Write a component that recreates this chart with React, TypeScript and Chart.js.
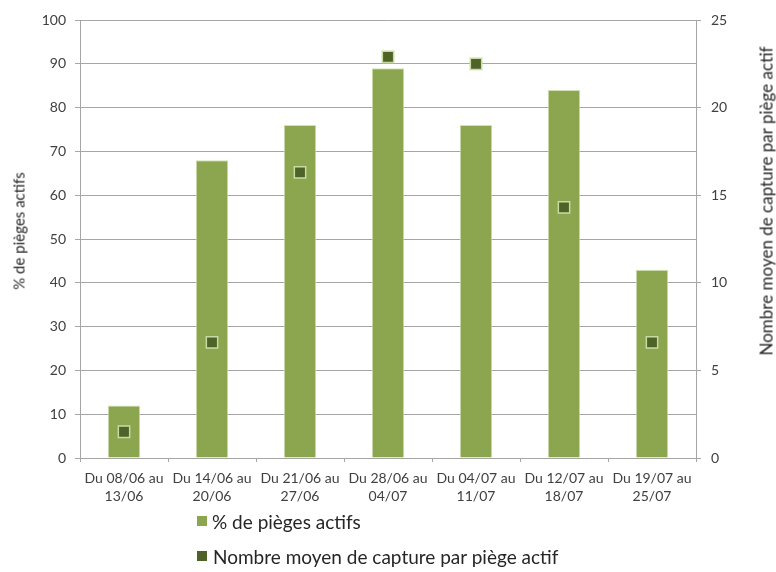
import React, { useEffect, useRef } from 'react';
import { Chart, registerables } from 'chart.js';

Chart.register(...registerables);

const categories: string[][] = [
  ['Du 08/06 au', '13/06'],
  ['Du 14/06 au', '20/06'],
  ['Du 21/06 au', '27/06'],
  ['Du 28/06 au', '04/07'],
  ['Du 04/07 au', '11/07'],
  ['Du 12/07 au', '18/07'],
  ['Du 19/07 au', '25/07'],
];
const pctActiveTraps = [12, 68, 76, 89, 76, 84, 43];
const meanCaptures = [1.5, 6.6, 16.3, 22.9, 22.5, 14.3, 6.6];
const leftAxisMax = 100;
const leftAxisStep = 10;
const rightAxisMax = 25;
const rightAxisStep = 5;

const seriesLabels = ['% de pièges actifs', 'Nombre moyen de capture par piège actif'];
const leftTitle = '% de pièges actifs';
const rightTitle = 'Nombre moyen de capture par piège actif';

const BAR_COLOR = '#8ba64f';
const POINT_COLOR = '#4f6228';
const GRID = '#a6a6a6';
const FONT = 'Lato, Calibri, "Open Sans", sans-serif';
const W = 776;
const H = 572;

export default function App() {
  const ref = useRef<HTMLCanvasElement | null>(null);

  useEffect(() => {
    document.body.style.margin = '0';
    const canvas = ref.current;
    if (!canvas) return;
    const chart = new Chart(canvas, {
      type: 'bar',
      data: {
        labels: categories,
        datasets: [
          {
            type: 'line',
            label: seriesLabels[1],
            data: meanCaptures,
            yAxisID: 'y1',
            showLine: false,
            pointStyle: 'rect',
            pointRadius: 8,
            pointBackgroundColor: POINT_COLOR,
            pointBorderColor: '#c7dba2',
            pointBorderWidth: 1.5,
            backgroundColor: POINT_COLOR,
            borderColor: POINT_COLOR,
            order: 0,
          } as any,
          {
            type: 'bar',
            label: seriesLabels[0],
            data: pctActiveTraps,
            yAxisID: 'y',
            backgroundColor: BAR_COLOR,
            borderColor: '#d3e2b6',
            borderWidth: 1,
            categoryPercentage: 1,
            barPercentage: 0.37,
            order: 1,
          },
        ],
      },
      options: {
        responsive: false,
        animation: false,
        layout: { padding: { top: 20, left: 0, right: 0, bottom: 0 } },
        plugins: {
          legend: { display: false },
          tooltip: { enabled: false },
        },
        scales: {
          x: {
            offset: true,
            grid: {
              display: true,
              offset: true,
              drawOnChartArea: false,
              drawTicks: true,
              tickLength: 4,
              color: GRID,
            },
            border: { color: GRID },
            ticks: {
              color: '#404040',
              font: { family: FONT, size: 14, lineHeight: 1.3 },
              padding: 7,
              maxRotation: 0,
              autoSkip: false,
            },
            afterFit: (s: any) => {
              s.height = H - 458;
            },
          },
          y: {
            position: 'left',
            min: 0,
            max: leftAxisMax,
            grid: { color: GRID, tickLength: 5 },
            border: { color: GRID },
            ticks: {
              stepSize: leftAxisStep,
              color: '#404040',
              font: { family: FONT, size: 14 },
              padding: 9,
            },
            afterFit: (s: any) => {
              s.width = 80;
            },
          },
          y1: {
            position: 'right',
            min: 0,
            max: rightAxisMax,
            grid: { color: GRID, tickLength: 5, drawOnChartArea: false },
            border: { color: GRID },
            ticks: {
              stepSize: rightAxisStep,
              color: '#404040',
              font: { family: FONT, size: 14 },
              padding: 10,
            },
            afterFit: (s: any) => {
              s.width = 80;
            },
          },
        },
      },
    });
    return () => chart.destroy();
  }, []);

  const textStyle: React.CSSProperties = {
    position: 'absolute',
    fontFamily: FONT,
    color: '#262626',
    whiteSpace: 'nowrap',
    lineHeight: 1,
  };

  return (
    <div style={{ position: 'relative', width: W, height: H, background: '#fff', overflow: 'hidden' }}>
      <canvas ref={ref} width={W} height={H} style={{ position: 'absolute', left: 0, top: 0, width: W, height: H }} />
      <div
        style={{
          ...textStyle,
          fontSize: 15,
          left: 19,
          top: 231,
          transform: 'translate(-50%, -50%) rotate(-90deg)',
        }}
      >
        {leftTitle}
      </div>
      <div
        style={{
          ...textStyle,
          fontSize: 17,
          left: 766,
          top: 201,
          transform: 'translate(-50%, -50%) rotate(-90deg)',
        }}
      >
        {rightTitle}
      </div>
      <div style={{ ...textStyle, left: 197, top: 511, height: 20, display: 'flex', alignItems: 'center', fontSize: 19 }}>
        <span style={{ display: 'inline-block', width: 10, height: 10, background: BAR_COLOR, marginRight: 5 }} />
        <span>{seriesLabels[0]}</span>
      </div>
      <div style={{ ...textStyle, left: 197, top: 546, height: 20, display: 'flex', alignItems: 'center', fontSize: 19 }}>
        <span style={{ display: 'inline-block', width: 10, height: 10, background: POINT_COLOR, marginRight: 6 }} />
        <span>{seriesLabels[1]}</span>
      </div>
    </div>
  );
}
